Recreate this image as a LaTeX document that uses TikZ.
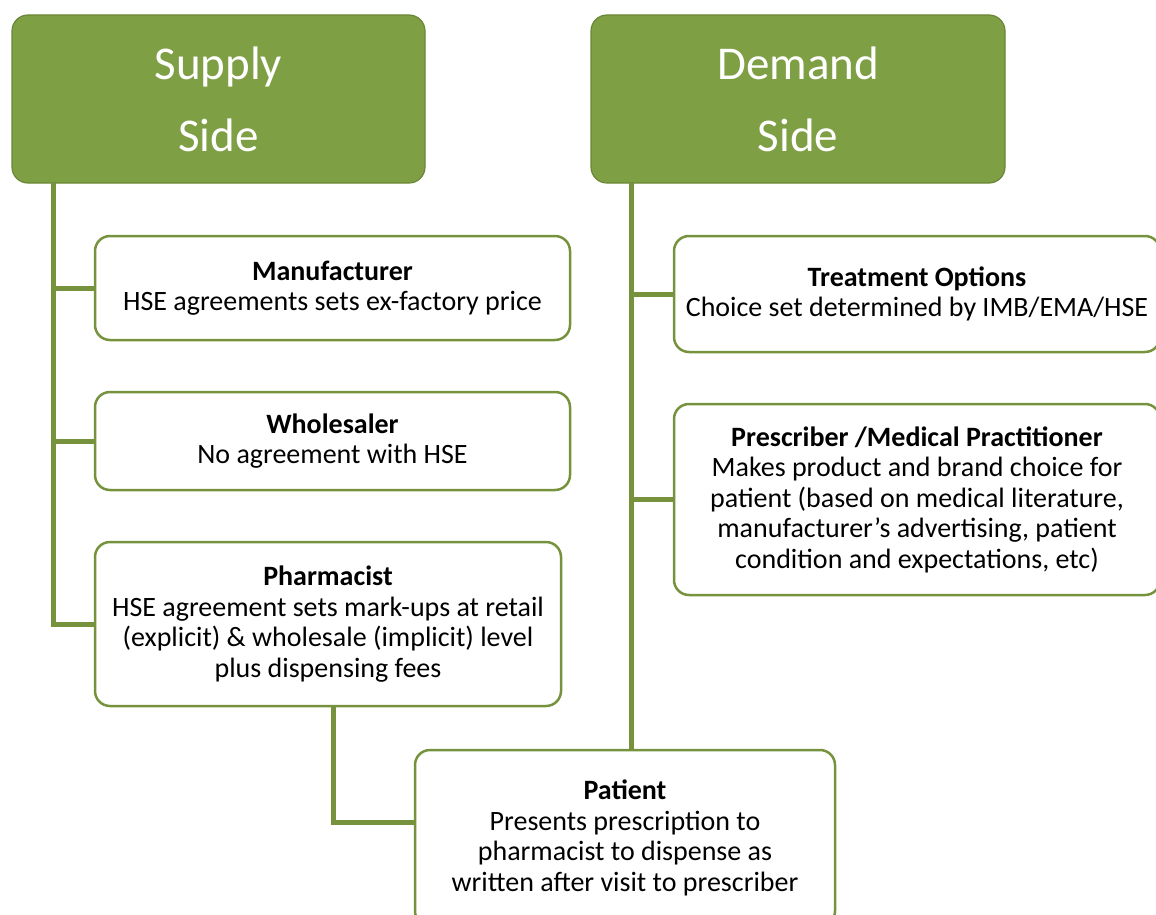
\documentclass[tikz,border=0pt]{standalone}
\usepackage{fontspec}
\setmainfont{Carlito}
\definecolor{hdr}{RGB}{127,159,69}
\definecolor{hdrdark}{RGB}{106,134,54}
\definecolor{hdrlight}{RGB}{150,182,88}
\definecolor{conn}{RGB}{118,146,60}
\begin{document}
\begin{tikzpicture}[x=1pt,y=-1pt,
  header/.style={draw=hdrdark,line width=1.2pt,rounded corners=16pt,
    fill=hdr,
    text=white,align=center,inner sep=0pt,
    font=\fontsize{47}{72}\selectfont},
  infobox/.style={draw=conn,line width=2.5pt,fill=white,rounded corners=15pt,
    align=center,inner sep=0pt,font=\fontsize{28}{30.5}\selectfont},
  link/.style={draw=conn,line width=5pt}]
\useasboundingbox (0,0) rectangle (1156,915);
\clip (0,0) rectangle (1156,915);
% headers
\node[header,minimum width=413pt,minimum height=168pt] (sup) at (218.5,99) {Supply\\Side};
\node[header,minimum width=414pt,minimum height=168pt] (dem) at (798,99) {Demand\\Side};
% junction coordinates
\coordinate (s0) at (53,183);
\coordinate (d0) at (631,183);
\coordinate (pj) at (333,822);
% supply boxes
\node[infobox,minimum width=475pt,minimum height=104pt] (man) at (332.5,288)
  {\textbf{Manufacturer}\\HSE agreements sets ex-factory price};
\node[infobox,minimum width=475pt,minimum height=98pt] (who) at (332.5,441)
  {\textbf{Wholesaler}\\No agreement with HSE};
\node[infobox,minimum width=466pt,minimum height=164pt] (pha) at (328,624)
  {\textbf{Pharmacist}\\HSE agreement sets mark-ups at retail\\(explicit) \& wholesale (implicit) level\\plus dispensing fees};
% demand boxes
\node[infobox,minimum width=486pt,minimum height=116pt] (tre) at (917,294)
  {\textbf{Treatment Options}\\Choice set determined by IMB/EMA/HSE};
\node[infobox,minimum width=486pt,minimum height=191pt] (pre) at (917,499.5)
  {\textbf{Prescriber /Medical Practitioner}\\Makes product and brand choice for\\patient (based on medical literature,\\manufacturer’s advertising, patient\\condition and expectations, etc)};
% patient
\node[infobox,minimum width=420pt,minimum height=176pt] (pat) at (625,838)
  {\textbf{Patient}\\Presents prescription to\\pharmacist to dispense as\\written after visit to prescriber};
% connectors
\draw[link] (s0) |- (man.west);
\draw[link] (s0) |- (who.west);
\draw[link] (s0) |- (pha.west);
\draw[link] (pha.south -| pj) -- (pj) -- (pat.west |- pj);
\draw[link] (d0) -- (d0 |- pat.north);
\draw[link] (d0) |- (tre.west);
\draw[link] (d0) |- (pre.west);
\end{tikzpicture}
\end{document}
